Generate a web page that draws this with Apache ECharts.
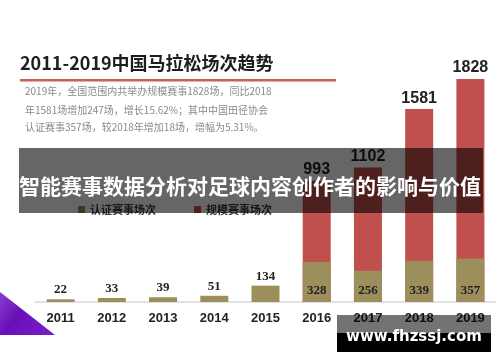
<!DOCTYPE html>
<html>
<head>
<meta charset="utf-8">
<script src="https://cdn.jsdelivr.net/npm/echarts@6/dist/echarts.min.js"></script>
<style>html,body{margin:0;padding:0;background:#fff;}#c{width:500px;height:362px;}</style>
</head>
<body>
<div id="c"></div>
<script>
const years = ['2011','2012','2013','2014','2015','2016','2017','2018','2019'];
const certified = [22, 33, 39, 51, 134, 328, 256, 339, 357];
const scaleEvents = [null, null, null, null, null, 993, 1102, 1581, 1828];
const seriesNames = ['认证赛事场次', '规模赛事场次'];
const titleText = '2011-2019中国马拉松场次趋势';
const noteLines = [
  '2019年，全国范围内共举办规模赛事1828场，同比2018',
  '年1581场增加247场，增长15.62%；其中中国田径协会',
  '认证赛事357场，较2018年增加18场，增幅为5.31%。'
];
const bannerText = '智能赛事数据分析对足球内容创作者的影响与价值';
const siteText = 'www.fhzssj.com';

const chart = echarts.init(document.getElementById('c'), null, {renderer: 'canvas'});
const CJK = '"Noto Sans CJK SC", "Noto Sans", sans-serif';

const olive = '#9c8f5c';
const red = '#c0504d';

const certData = certified.map((v, i) => ({
  value: v,
  label: scaleEvents[i] != null
    ? {position: 'insideBottom', distance: 5}
    : {position: 'top', distance: 3}
}));

const option = {
  animation: false,
  backgroundColor: '#ffffff',
  grid: {left: 35, right: 4, top: 58, bottom: 60},
  legend: {
    data: seriesNames,
    left: 73, top: 199,
    icon: 'rect', itemWidth: 7, itemHeight: 7, itemGap: 38,
    textStyle: {fontFamily: CJK, fontSize: 11, fontWeight: 'bold', color: '#3a3a3a'}
  },
  xAxis: {
    type: 'category', data: years,
    axisLine: {lineStyle: {color: '#d9d9d9', width: 1.5}},
    axisTick: {show: false},
    axisLabel: {fontFamily: '"Liberation Sans", Arial, sans-serif', fontWeight: 'bold', fontSize: 13, color: '#222', margin: 10}
  },
  yAxis: {type: 'value', min: 0, max: 2000, show: false, splitLine: {show: false}},
  series: [
    {
      name: seriesNames[1], type: 'bar', data: scaleEvents, barWidth: 28,
      itemStyle: {color: red}, z: 2,
      label: {show: true, position: 'top', distance: 3,
        fontFamily: '"Liberation Sans", Arial, sans-serif', fontWeight: 'bold', fontSize: 16, color: '#222'}
    },
    {
      name: seriesNames[0], type: 'bar', data: certData, barWidth: 28, barGap: '-100%',
      itemStyle: {color: olive}, z: 3,
      label: {show: true,
        fontFamily: '"Liberation Serif", "Times New Roman", serif', fontWeight: 'bold', fontSize: 13, color: '#222'}
    }
  ],
  graphic: [
    {type: 'text', left: 20, top: 54, z: 10,
      style: {text: titleText, font: 'bold 18px ' + CJK, fill: '#1e1e1e'}},
    {type: 'rect', shape: {x: 20, y: 79, width: 316, height: 2.5}, z: 10,
      style: {fill: '#c7615b'}},
    ...noteLines.map((t, i) => ({
      type: 'text', left: 25, top: [86, 105, 122][i], z: 10,
      style: {text: t, font: '10px ' + CJK, fill: '#8a8a8a'}
    })),
    {type: 'polygon', z: 10,
      shape: {points: [[0, 292], [55, 335], [0, 335]]},
      style: {fill: new echarts.graphic.LinearGradient(0, 0, 1, 1, [
        {offset: 0, color: '#8a3fd0'}, {offset: 0.4, color: '#6a0fb8'}, {offset: 1, color: '#7a1fc8'}])}},
    {type: 'rect', shape: {x: 19, y: 148, width: 464, height: 65}, z: 100,
      style: {fill: 'rgba(0,0,0,0.6)'}},
    {type: 'text', z: 101, x: 250, y: 186,
      style: {text: bannerText, font: 'bold 21px ' + CJK, fill: '#ffffff', align: 'center', verticalAlign: 'middle'}},
    {type: 'rect', shape: {x: 337, y: 315, width: 154, height: 18}, z: 100,
      style: {fill: 'rgba(0,0,0,0.55)'}},
    {type: 'rect', shape: {x: 337, y: 333, width: 154, height: 19}, z: 100,
      style: {fill: '#000000'}},
    {type: 'text', z: 101, x: 414, y: 337,
      style: {text: siteText, font: 'bold 15px "DejaVu Sans", Verdana, sans-serif', fill: '#ffffff', align: 'center', verticalAlign: 'middle'}}
  ]
};
chart.setOption(option);
</script>
</body>
</html>
